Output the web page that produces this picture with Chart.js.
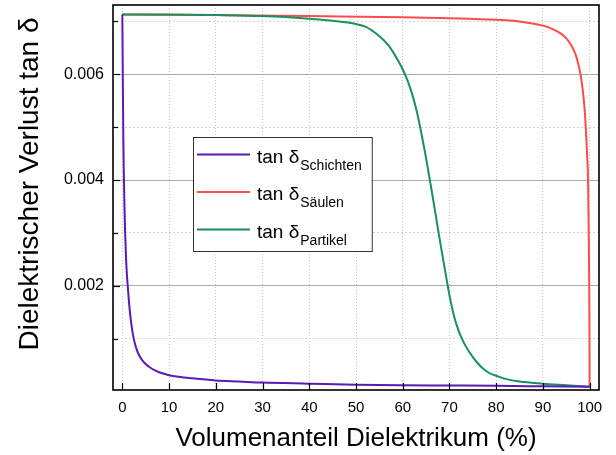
<!DOCTYPE html>
<html>
<head>
<meta charset="utf-8">
<script src="https://cdn.jsdelivr.net/npm/chart.js@4.4.1/dist/chart.umd.min.js"></script>
<style>
  html, body { margin: 0; padding: 0; background: #fff; }
  canvas { display: block; }
</style>
</head>
<body>
<canvas id="lossChart" width="616" height="455"></canvas>
<script>
// Volumenanteil (%) und tan delta je Geometrie
const xSchichten = [0, 0.1, 0.2, 0.3, 0.45, 0.6, 0.8, 1, 1.15, 1.4, 1.65, 2, 2.35, 2.8, 3.4, 4.2, 5, 6, 7, 8, 10, 12, 15, 20, 25, 30, 40, 50, 60, 70, 80, 90, 100];
const ySchichten = [0.00713, 0.0059, 0.0049, 0.0042, 0.0035, 0.003, 0.0025, 0.00218, 0.002, 0.00172, 0.00148, 0.00123, 0.00104, 0.00087, 0.00072, 0.0006, 0.00052, 0.00045, 0.0004, 0.00036, 0.00031, 0.00028, 0.00025, 0.00021, 0.00019, 0.00017, 0.00015, 0.00013, 0.00012, 0.000115, 0.00011, 0.0001, 0.00009];

const xSaeulen = [0, 20, 40, 60, 70, 80, 85, 90, 92, 94, 95, 96, 97, 97.5, 98, 98.5, 99, 99.3, 99.5, 99.65, 99.8, 99.9, 99.95, 99.98, 100];
const ySaeulen = [0.00713, 0.00712, 0.0071, 0.00708, 0.00706, 0.00703, 0.007, 0.00692, 0.00686, 0.00676, 0.00668, 0.00656, 0.00637, 0.00622, 0.00602, 0.00572, 0.00525, 0.00476, 0.0044, 0.00403, 0.003, 0.0021, 0.0013, 0.0006, 0.00009];

const xPartikel = [0, 10, 20, 30, 40, 45, 50, 52, 54, 55, 56, 57, 58, 59, 60, 61, 62, 63, 64, 65, 66, 67, 68, 69, 70, 71, 72, 73, 74, 75, 76, 77, 78, 79, 80, 82, 85, 90, 95, 100];
const yPartikel = [0.00713, 0.00713, 0.00712, 0.0071, 0.00705, 0.00701, 0.00695, 0.0069, 0.00679, 0.00672, 0.00664, 0.00654, 0.00641, 0.00626, 0.00609, 0.00589, 0.00563, 0.0053, 0.00488, 0.00441, 0.0039, 0.00337, 0.00283, 0.00232, 0.00182, 0.00142, 0.00114, 0.00094, 0.00078, 0.00065, 0.00054, 0.00045, 0.00038, 0.00033, 0.0003, 0.00024, 0.00019, 0.00015, 0.00012, 0.00009];

const seriesNames = ['Schichten', 'Säulen', 'Partikel'];
const xTicks = [0, 10, 20, 30, 40, 50, 60, 70, 80, 90, 100];
const yTicks = [0.001, 0.002, 0.003, 0.004, 0.005, 0.006, 0.007];
const yLabeled = [0.002, 0.004, 0.006];

const FONT = '"Liberation Sans", Arial, sans-serif';
Chart.defaults.font.family = FONT;
Chart.defaults.color = '#000';

function toPoints(xs, ys) {
    return xs.map((x, i) => ({ x: x, y: ys[i] }));
}

function isLabeled(v) {
    return yLabeled.some(l => Math.abs(l - v) < 1e-9);
}

// frame and inward tick marks
const frameTicks = {
    id: 'frameTicks',
    afterDatasetsDraw(chart) {
        const { ctx, chartArea: a, scales } = chart;
        ctx.save();
        ctx.strokeStyle = '#000';
        ctx.lineWidth = 1.2;
        xTicks.forEach(v => {
            const px = Math.round(scales.x.getPixelForValue(v)) + 0.5;
            ctx.beginPath();
            ctx.moveTo(px, a.bottom);
            ctx.lineTo(px, a.bottom - 7);
            ctx.stroke();
        });
        yTicks.forEach(v => {
            const py = Math.round(scales.y.getPixelForValue(v)) + 0.5;
            const len = isLabeled(v) ? 7 : 5;
            ctx.beginPath();
            ctx.moveTo(a.left, py);
            ctx.lineTo(a.left + len, py);
            ctx.stroke();
        });
        ctx.lineWidth = 1.6;
        ctx.strokeRect(a.left, a.top, a.right - a.left, a.bottom - a.top);
        ctx.restore();
    }
};

// legend with subscripted delta
const deltaLegend = {
    id: 'deltaLegend',
    afterDraw(chart) {
        const ctx = chart.ctx;
        const x0 = 193, y0 = 137, rowH = 37.5;
        const mainFont = '19px ' + FONT;
        const subFont = '14px ' + FONT;
        ctx.save();
        ctx.font = mainFont;
        const prefixW = ctx.measureText('tan δ').width;
        ctx.font = subFont;
        const subW = Math.max(...seriesNames.map(n => ctx.measureText(n).width));
        const boxW = 65 + prefixW + subW + 10;
        const boxH = 114;
        ctx.fillStyle = '#fff';
        ctx.fillRect(x0, y0, boxW, boxH);
        ctx.strokeStyle = '#333';
        ctx.lineWidth = 1;
        ctx.strokeRect(x0 + 0.5, y0 + 0.5, boxW, boxH);
        chart.data.datasets.forEach((ds, i) => {
            const ly = y0 + 17.5 + i * rowH;
            ctx.strokeStyle = ds.borderColor;
            ctx.lineWidth = 2;
            ctx.beginPath();
            ctx.moveTo(x0 + 4, ly);
            ctx.lineTo(x0 + 57, ly);
            ctx.stroke();
            ctx.fillStyle = '#000';
            ctx.textBaseline = 'alphabetic';
            ctx.font = mainFont;
            ctx.fillText('tan δ', x0 + 64, ly + 8);
            ctx.font = subFont;
            ctx.fillText(seriesNames[i], x0 + 64 + prefixW + 1, ly + 15);
        });
        ctx.restore();
    }
};

// rotated y axis title
const yTitle = {
    id: 'yTitle',
    afterDraw(chart) {
        const ctx = chart.ctx;
        ctx.save();
        ctx.translate(30, 184);
        ctx.rotate(-Math.PI / 2);
        ctx.font = '28px ' + FONT;
        ctx.fillStyle = '#000';
        ctx.textAlign = 'center';
        ctx.textBaseline = 'middle';
        ctx.fillText('Dielektrischer Verlust tan δ', 0, 0);
        ctx.restore();
    }
};

const lineStyle = {
    borderWidth: 2,
    pointRadius: 0,
    fill: false,
    cubicInterpolationMode: 'monotone'
};

const ctx = document.getElementById('lossChart').getContext('2d');
new Chart(ctx, {
    type: 'line',
    data: {
        datasets: [
            { ...lineStyle, order: 0, label: 'tan δ ' + seriesNames[0], data: toPoints(xSchichten, ySchichten), borderColor: '#5b1ab6' },
            { ...lineStyle, order: 2, label: 'tan δ ' + seriesNames[1], data: toPoints(xSaeulen, ySaeulen), borderColor: '#ff4b4b' },
            { ...lineStyle, order: 1, label: 'tan δ ' + seriesNames[2], data: toPoints(xPartikel, yPartikel), borderColor: '#16915f' }
        ]
    },
    options: {
        responsive: false,
        animation: false,
        layout: { padding: { top: 5, right: 17, left: 0, bottom: 0 } },
        plugins: {
            legend: { display: false },
            tooltip: { enabled: false }
        },
        scales: {
            x: {
                type: 'linear',
                min: -2,
                max: 102,
                afterBuildTicks: s => { s.ticks = xTicks.map(v => ({ value: v })); },
                afterFit: s => { s.height = 65; s.paddingLeft = 0; s.paddingRight = 0; },
                ticks: {
                    padding: 9,
                    font: { size: 15 },
                    maxRotation: 0,
                    callback: v => String(v)
                },
                grid: {
                    drawTicks: false,
                    color: '#c4c4c4',
                    lineWidth: 1
                },
                border: { display: false, dash: [1, 2] },
                title: {
                    display: true,
                    text: 'Volumenanteil Dielektrikum (%)',
                    font: { size: 26 },
                    padding: { top: 0, bottom: 1 }
                }
            },
            y: {
                type: 'linear',
                min: 0.00003,
                max: 0.00731,
                afterBuildTicks: s => { s.ticks = yTicks.map(v => ({ value: v })); },
                afterFit: s => { s.width = 113; s.paddingTop = 0; s.paddingBottom = 0; },
                ticks: {
                    padding: 9,
                    font: { size: 16 },
                    callback: v => isLabeled(v) ? v.toFixed(3) : ''
                },
                grid: {
                    drawTicks: false,
                    lineWidth: 1,
                    color: c => (c.tick && isLabeled(c.tick.value)) ? '#aaaaaa' : '#d6d6d6'
                },
                border: {
                    display: false,
                    dash: c => (c.tick && isLabeled(c.tick.value)) ? [] : [2, 2]
                }
            }
        }
    },
    plugins: [frameTicks, deltaLegend, yTitle]
});
</script>
</body>
</html>
